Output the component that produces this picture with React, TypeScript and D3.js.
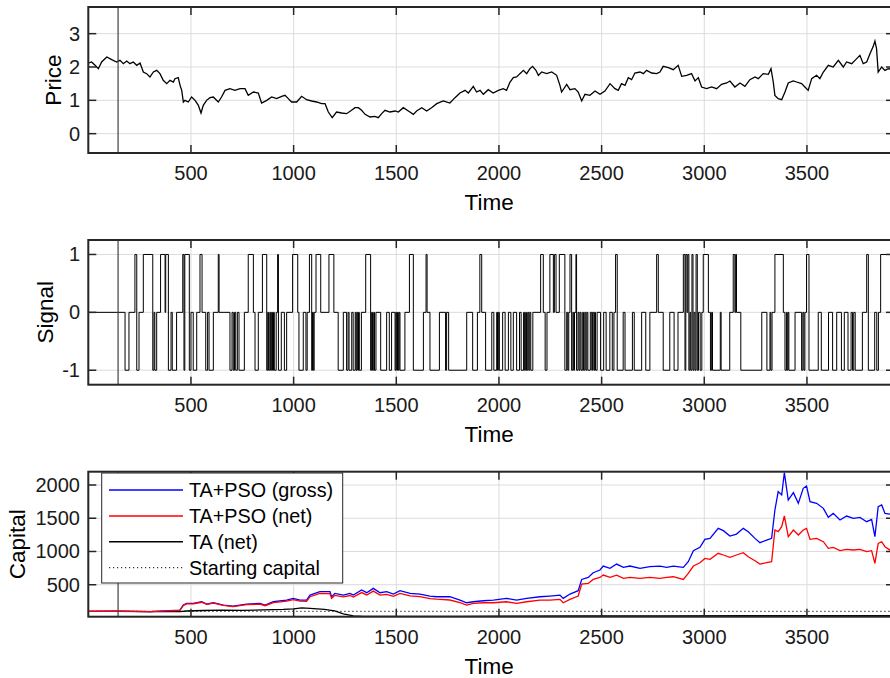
import React from 'react';
import * as d3 from 'd3';

// price series as [time, price]
const priceData: [number, number][] = [
  [1, 2.12], [16, 2.15], [33, 2.05], [49, 1.95], [65, 2.15], [90, 2.3], [114, 2.22], [138, 2.15], [154, 2.2],
  [171, 2.1], [187, 2.18], [203, 2.1], [219, 2.15], [236, 2.05], [252, 2.12], [268, 1.85], [284, 1.8], [300, 1.7],
  [317, 1.85], [333, 1.9], [349, 1.8], [365, 1.6], [382, 1.5], [398, 1.6], [414, 1.55], [422, 1.65], [438, 1.68],
  [447, 1.45], [455, 1.3], [463, 0.95], [471, 1.0], [487, 0.95], [503, 1.1], [520, 1.0], [536, 0.85], [549, 0.62],
  [560, 0.85], [576, 1.0], [593, 1.08], [609, 1.1], [633, 0.95], [649, 1.1], [666, 1.3], [690, 1.35], [714, 1.3],
  [739, 1.35], [763, 1.35], [779, 1.15], [804, 1.25], [828, 1.22], [844, 0.92], [869, 1.0], [893, 1.1], [917, 1.05],
  [942, 1.12], [958, 1.15], [974, 1.05], [990, 0.95], [1015, 0.95], [1039, 1.12], [1063, 1.02], [1088, 0.98],
  [1112, 0.95], [1136, 0.9], [1153, 0.9], [1169, 0.65], [1188, 0.48], [1209, 0.65], [1234, 0.62], [1258, 0.6],
  [1282, 0.7], [1299, 0.78], [1315, 0.78], [1331, 0.7], [1348, 0.58], [1372, 0.5], [1396, 0.52], [1412, 0.48],
  [1429, 0.6], [1445, 0.7], [1469, 0.65], [1494, 0.68], [1510, 0.65], [1534, 0.78], [1559, 0.68], [1583, 0.58],
  [1599, 0.68], [1624, 0.78], [1648, 0.68], [1672, 0.78], [1697, 0.9], [1729, 0.98], [1761, 0.92], [1786, 1.08],
  [1810, 1.22], [1835, 1.3], [1851, 1.22], [1875, 1.42], [1891, 1.25], [1908, 1.3], [1924, 1.18], [1948, 1.32],
  [1972, 1.22], [1997, 1.3], [2021, 1.35], [2037, 1.3], [2054, 1.55], [2070, 1.68], [2086, 1.7], [2102, 1.8],
  [2119, 1.9], [2135, 1.8], [2151, 1.95], [2164, 2.02], [2180, 1.9], [2192, 1.75], [2208, 1.85], [2232, 1.8],
  [2257, 1.85], [2281, 1.75], [2297, 1.45], [2305, 1.25], [2330, 1.48], [2346, 1.32], [2370, 1.35], [2386, 1.25],
  [2403, 0.98], [2419, 1.18], [2443, 1.15], [2468, 1.28], [2492, 1.18], [2516, 1.28], [2541, 1.5], [2565, 1.35],
  [2581, 1.3], [2597, 1.5], [2614, 1.45], [2630, 1.68], [2646, 1.62], [2662, 1.82], [2687, 1.85], [2703, 1.8],
  [2719, 1.9], [2744, 1.82], [2768, 1.8], [2784, 1.85], [2800, 2.02], [2825, 1.98], [2849, 1.92], [2873, 2.05],
  [2890, 1.72], [2914, 1.75], [2938, 1.8], [2955, 1.58], [2971, 1.68], [2987, 1.4], [3011, 1.35], [3036, 1.4],
  [3060, 1.35], [3084, 1.48], [3109, 1.52], [3125, 1.58], [3149, 1.4], [3174, 1.52], [3198, 1.42], [3222, 1.62],
  [3247, 1.7], [3263, 1.65], [3287, 1.8], [3312, 1.78], [3325, 1.95], [3336, 1.55], [3344, 1.15], [3360, 1.05],
  [3377, 1.02], [3393, 1.25], [3409, 1.52], [3433, 1.58], [3450, 1.55], [3474, 1.5], [3490, 1.4], [3506, 1.3],
  [3523, 1.65], [3547, 1.75], [3563, 1.65], [3580, 1.85], [3604, 2.05], [3628, 2.0], [3653, 2.2], [3677, 2.0],
  [3693, 2.15], [3718, 2.1], [3734, 2.2], [3758, 2.35], [3774, 2.1], [3791, 2.15], [3807, 2.4], [3823, 2.62],
  [3831, 2.78], [3839, 2.55], [3847, 1.85], [3864, 2.0], [3880, 1.9], [3896, 1.95], [3924, 1.92],
];

// trading signal: [time the level starts, level]
const signalData: [number, number][] = [
  [1, 0], [179, -1], [198, 0], [227, 1], [236, -1], [247, 0], [268, 1], [314, -1], [320, 0], [324, -1], [333, 0],
  [352, 1], [374, 0], [377, 1], [390, -1], [403, 0], [409, -1], [430, 0], [460, 1], [466, -1], [470, 1], [492, -1],
  [500, 0], [511, -1], [528, 0], [544, 1], [554, 0], [572, -1], [581, 0], [588, -1], [609, 0], [633, 1], [637, 0],
  [690, -1], [700, 0], [706, -1], [712, 0], [718, -1], [726, 0], [734, -1], [760, 0], [779, 1], [804, 0], [812, -1],
  [828, 0], [848, 1], [869, -1], [874, 0], [878, -1], [884, 0], [888, -1], [893, 0], [897, -1], [902, 0], [906, -1],
  [915, 0], [922, 1], [926, -1], [940, 0], [955, -1], [966, 0], [995, 1], [1020, 0], [1026, -1], [1047, 0],
  [1060, -1], [1066, 0], [1077, 1], [1088, -1], [1092, 0], [1096, -1], [1100, 0], [1109, 1], [1132, 0], [1172, 1],
  [1196, 0], [1217, -1], [1242, 0], [1258, -1], [1265, 0], [1270, -1], [1283, 0], [1290, -1], [1300, 0], [1304, -1],
  [1308, 0], [1312, -1], [1316, 0], [1320, -1], [1330, 0], [1351, 1], [1375, -1], [1380, 0], [1384, -1], [1390, 0],
  [1394, -1], [1401, 0], [1424, -1], [1453, 0], [1466, -1], [1477, 0], [1494, -1], [1498, 0], [1502, -1], [1506, 0],
  [1510, -1], [1514, 0], [1518, -1], [1542, 0], [1564, 1], [1583, -1], [1632, 0], [1645, 1], [1650, 0], [1664, -1],
  [1710, 0], [1740, -1], [1745, 0], [1755, -1], [1843, 0], [1872, -1], [1895, 0], [1907, 1], [1916, 0], [1935, -1],
  [1965, 0], [1975, -1], [1989, 0], [1993, -1], [1997, 0], [2002, -1], [2018, 0], [2030, -1], [2046, 0], [2058, -1],
  [2070, 0], [2086, -1], [2100, 0], [2108, -1], [2120, 0], [2124, -1], [2130, 0], [2134, -1], [2140, 0], [2145, -1],
  [2150, 0], [2155, -1], [2165, 0], [2203, 1], [2216, 0], [2225, -1], [2234, 0], [2248, 1], [2265, 0], [2270, 1],
  [2278, 0], [2294, 1], [2321, -1], [2330, 0], [2335, -1], [2340, 0], [2346, 1], [2354, -1], [2360, 0], [2364, -1],
  [2368, 0], [2375, 1], [2378, -1], [2385, 0], [2390, -1], [2395, 0], [2400, -1], [2408, 0], [2412, -1], [2418, 0],
  [2423, -1], [2428, 0], [2433, -1], [2445, 0], [2452, -1], [2456, 0], [2462, -1], [2466, 0], [2470, -1], [2478, 0],
  [2495, -1], [2510, 0], [2522, -1], [2540, 0], [2552, -1], [2560, 0], [2568, 1], [2576, -1], [2605, 0], [2614, -1],
  [2650, 0], [2659, -1], [2695, 0], [2715, -1], [2735, 0], [2768, 1], [2776, 0], [2800, -1], [2832, 0], [2853, -1],
  [2872, 0], [2898, 1], [2906, -1], [2910, 1], [2916, 0], [2920, 1], [2925, -1], [2930, 0], [2934, -1], [2940, 1],
  [2945, -1], [2950, 0], [2955, -1], [2960, 1], [2966, -1], [2972, 0], [2980, -1], [2988, 0], [2995, 1], [3020, 0],
  [3030, -1], [3036, 0], [3040, -1], [3078, 0], [3082, -1], [3124, 0], [3141, 1], [3149, 0], [3153, 1], [3157, 0],
  [3178, -1], [3280, 0], [3305, -1], [3320, 0], [3324, -1], [3330, 0], [3344, 1], [3385, 0], [3393, -1], [3400, 0],
  [3404, -1], [3408, 0], [3412, -1], [3442, 0], [3474, -1], [3480, 0], [3485, -1], [3490, 0], [3498, 1], [3510, -1],
  [3555, 0], [3570, -1], [3605, 0], [3625, -1], [3645, 0], [3668, -1], [3682, 0], [3700, -1], [3715, 0], [3722, -1],
  [3728, 0], [3735, -1], [3770, 0], [3791, 1], [3799, -1], [3830, 0], [3840, -1], [3848, 0], [3859, 1], [3924, 1],
];

const grossCapital: [number, number][] = [
  [1, 100], [138, 104], [300, 94], [446, 119], [463, 194], [479, 219], [512, 219], [552, 244], [577, 209], [609, 229],
  [658, 194], [706, 179], [771, 209], [836, 219], [861, 194], [901, 244], [966, 269], [998, 294], [1031, 269],
  [1063, 269], [1080, 344], [1128, 395], [1177, 395], [1185, 319], [1201, 370], [1242, 344], [1274, 370], [1291, 344],
  [1331, 420], [1356, 380], [1388, 445], [1421, 380], [1453, 395], [1486, 360], [1518, 410], [1567, 370], [1615, 360],
  [1664, 330], [1697, 319], [1761, 319], [1810, 269], [1843, 229], [1875, 244], [1924, 259], [1973, 269], [2037, 294],
  [2086, 269], [2135, 294], [2200, 319], [2248, 330], [2297, 344], [2313, 294], [2346, 360], [2386, 410], [2403, 580],
  [2435, 610], [2459, 680], [2492, 721], [2508, 781], [2541, 746], [2573, 811], [2606, 761], [2638, 781], [2687, 746],
  [2735, 771], [2784, 781], [2817, 761], [2849, 781], [2898, 761], [2922, 846], [2947, 1012], [2979, 1062],
  [3003, 1182], [3028, 1197], [3068, 1348], [3093, 1313], [3125, 1232], [3157, 1262], [3190, 1348], [3214, 1298],
  [3247, 1197], [3271, 1132], [3304, 1172], [3328, 1197], [3344, 1624], [3360, 1900], [3377, 1850], [3390, 2186],
  [3409, 1774], [3434, 1885], [3458, 1724], [3482, 1950], [3498, 1985], [3515, 1749], [3547, 1724], [3580, 1649],
  [3604, 1513], [3628, 1573], [3661, 1473], [3693, 1533], [3726, 1498], [3758, 1513], [3791, 1448], [3815, 1483],
  [3831, 1222], [3847, 1674], [3864, 1699], [3880, 1573], [3904, 1563], [3924, 1540],
];

const netCapital: [number, number][] = [
  [1, 100], [138, 104], [300, 94], [446, 115], [463, 190], [479, 212], [512, 214], [552, 236], [577, 204], [609, 222],
  [658, 188], [706, 172], [771, 200], [836, 208], [861, 184], [901, 232], [966, 254], [998, 276], [1031, 252],
  [1063, 250], [1080, 320], [1128, 368], [1177, 366], [1185, 294], [1201, 340], [1242, 316], [1274, 338], [1291, 314],
  [1331, 382], [1356, 346], [1388, 404], [1421, 344], [1453, 356], [1486, 326], [1518, 370], [1567, 332], [1615, 320],
  [1664, 292], [1697, 282], [1761, 270], [1810, 229], [1843, 194], [1875, 219], [1924, 229], [1973, 229], [2037, 244],
  [2086, 219], [2135, 244], [2200, 269], [2248, 269], [2297, 279], [2313, 229], [2346, 279], [2386, 330], [2403, 510],
  [2435, 520], [2459, 580], [2492, 610], [2508, 645], [2541, 610], [2573, 645], [2606, 595], [2638, 610], [2687, 595],
  [2735, 610], [2784, 595], [2817, 610], [2849, 620], [2898, 580], [2922, 671], [2947, 781], [2979, 831], [3003, 896],
  [3028, 881], [3068, 972], [3093, 947], [3125, 911], [3157, 947], [3190, 982], [3214, 921], [3247, 861], [3271, 811],
  [3304, 831], [3328, 846], [3344, 1323], [3360, 1298], [3377, 1373], [3390, 1534], [3409, 1222], [3434, 1323],
  [3458, 1248], [3482, 1323], [3498, 1348], [3515, 1182], [3547, 1197], [3580, 1147], [3604, 1047], [3628, 1062],
  [3661, 1012], [3693, 1032], [3726, 1022], [3758, 1032], [3791, 997], [3815, 1012], [3831, 821], [3847, 1122],
  [3864, 1147], [3880, 1072], [3904, 1022], [3924, 1010],
];

const taCapital: [number, number][] = [
  [1, 100], [138, 98], [300, 96], [446, 95], [479, 105], [560, 112], [650, 118], [750, 114], [850, 122], [950, 128],
  [1000, 138], [1040, 152], [1080, 145], [1150, 128], [1200, 108], [1242, 60], [1291, 30], [1340, 25], [1500, 22],
  [1800, 24], [2000, 28], [2400, 30], [2800, 32], [3200, 35], [3400, 36], [3924, 34],
];

const startingCapital = 100;
const trainEnd = 145;
const xTicks = [500, 1000, 1500, 2000, 2500, 3000, 3500];
const priceTicks = [0, 1, 2, 3];
const signalTicks = [-1, 0, 1];
const capitalTicks = [500, 1000, 1500, 2000];
const legendLabels = ['TA+PSO (gross)', 'TA+PSO (net)', 'TA (net)', 'Starting capital'];

const W = 890, H = 678;
const left = 88.3, right = 894;
const FONT = '"Liberation Sans", Arial, Helvetica, sans-serif';
const AX = '#262626';

const x = d3.scaleLinear().domain([0, 3924]).range([left, right]);

function Panel({ top, bottom, domain, yTicks, ylabel, ylabelX, id, children }: any) {
  const y = d3.scaleLinear().domain(domain).range([bottom, top]);
  const tl = 8;
  return (
    <g>
      <defs>
        <clipPath id={id}>
          <rect x={left} y={top} width={right - left} height={bottom - top} />
        </clipPath>
      </defs>
      <rect x={left} y={top} width={right - left} height={bottom - top} fill="#fff" />
      {xTicks.map(t => (
        <line key={'gx' + t} x1={x(t)} x2={x(t)} y1={top} y2={bottom} stroke="#dcdcdc" strokeWidth={1} />
      ))}
      {yTicks.map((t: number) => (
        <line key={'gy' + t} x1={left} x2={right} y1={y(t)} y2={y(t)} stroke="#dcdcdc" strokeWidth={1} />
      ))}
      <g clipPath={`url(#${id})`}>{children(y)}</g>
      <line x1={x(trainEnd)} x2={x(trainEnd)} y1={top} y2={bottom} stroke="#404040" strokeWidth={1.2} />
      {xTicks.map(t => (
        <g key={'tx' + t}>
          <line x1={x(t)} x2={x(t)} y1={bottom} y2={bottom - tl} stroke={AX} strokeWidth={1.5} />
          <line x1={x(t)} x2={x(t)} y1={top} y2={top + tl} stroke={AX} strokeWidth={1.5} />
          <text x={x(t)} y={bottom + 27} textAnchor="middle" fontSize={20} fill="#1a1a1a">{t}</text>
        </g>
      ))}
      {yTicks.map((t: number) => (
        <g key={'ty' + t}>
          <line x1={left} x2={left + tl} y1={y(t)} y2={y(t)} stroke={AX} strokeWidth={1.5} />
          <line x1={right} x2={right - tl} y1={y(t)} y2={y(t)} stroke={AX} strokeWidth={1.5} />
          <text x={80} y={y(t)} dy="0.35em" textAnchor="end" fontSize={20} fill="#1a1a1a">{t}</text>
        </g>
      ))}
      <rect x={left} y={top} width={right - left} height={bottom - top} fill="none" stroke={AX} strokeWidth={2} />
      <text x={(left + 890) / 2} y={bottom + 57} textAnchor="middle" fontSize={22.5} fill="#000">Time</text>
      <text transform={`translate(${ylabelX},${(top + bottom) / 2}) rotate(-90)`} textAnchor="middle" fontSize={22.5} fill="#000">{ylabel}</text>
    </g>
  );
}

export default function App() {
  const lineOf = (y: any) => d3.line<[number, number]>().x(d => x(d[0])).y(d => y(d[1]));
  const stepOf = (y: any) => d3.line<[number, number]>().x(d => x(d[0])).y(d => y(d[1])).curve(d3.curveStepAfter);
  const legendColors = ['#0000ff', '#ff0000', '#000000', '#000000'];

  return (
    <>
      <style>{`body{margin:0}`}</style>
      <svg width={W} height={H} style={{ display: 'block', fontFamily: FONT }}>
        <Panel id="c1" top={7} bottom={153} domain={[-0.58, 3.8]} yTicks={priceTicks} ylabel="Price" ylabelX={61}>
          {(y: any) => <path d={lineOf(y)(priceData) || ''} fill="none" stroke="#000" strokeWidth={1.3} />}
        </Panel>
        <Panel id="c2" top={240} bottom={384.7} domain={[-1.25, 1.25]} yTicks={signalTicks} ylabel="Signal" ylabelX={53}>
          {(y: any) => <path d={stepOf(y)(signalData) || ''} fill="none" stroke="#000" strokeWidth={1} />}
        </Panel>
        <Panel id="c3" top={471.7} bottom={616.7} domain={[19, 2200]} yTicks={capitalTicks} ylabel="Capital" ylabelX={25}>
          {(y: any) => (
            <g>
              <path d={lineOf(y)([[0, startingCapital], [3924, startingCapital]]) || ''} fill="none" stroke="#000" strokeWidth={1} strokeDasharray="1.2 2.8" />
              <path d={lineOf(y)(taCapital) || ''} fill="none" stroke="#000" strokeWidth={1.3} />
              <path d={lineOf(y)(grossCapital) || ''} fill="none" stroke="#0000ff" strokeWidth={1.3} />
              <path d={lineOf(y)(netCapital) || ''} fill="none" stroke="#ff0000" strokeWidth={1.3} />
            </g>
          )}
        </Panel>
        <g>
          <rect x={101.7} y={473} width={241} height={110} fill="#fff" stroke={AX} strokeWidth={1} />
          {legendLabels.map((lab, i) => {
            const ly = 490 + i * 25.9;
            return (
              <g key={lab}>
                <line x1={109} x2={183} y1={ly} y2={ly} stroke={legendColors[i]} strokeWidth={i === 3 ? 1 : 1.5}
                  strokeDasharray={i === 3 ? '1.2 2.8' : undefined} />
                <text x={189} y={ly + 7} fontSize={19.8} fill="#000">{lab}</text>
              </g>
            );
          })}
        </g>
      </svg>
    </>
  );
}
